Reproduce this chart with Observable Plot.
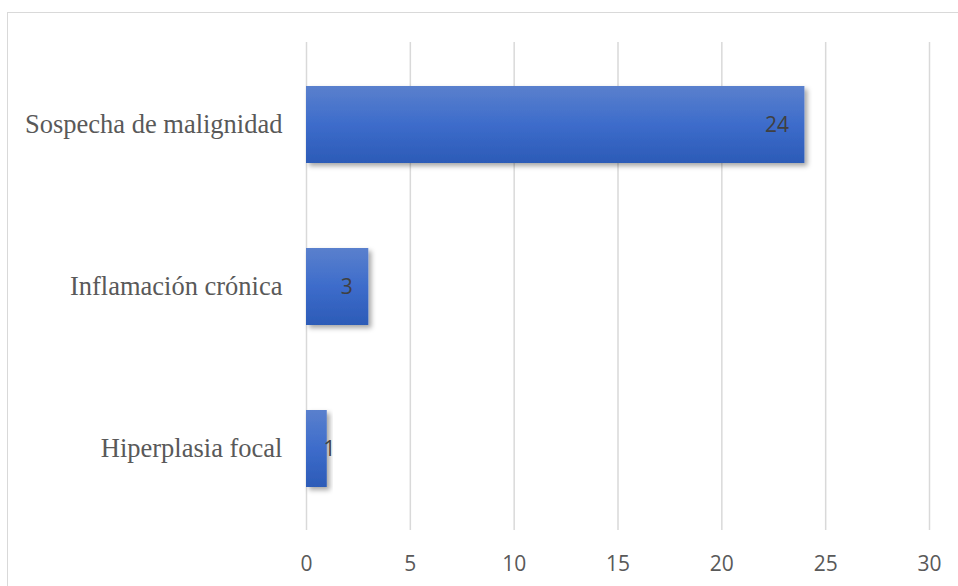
<!DOCTYPE html>
<html>
<head>
<meta charset="utf-8">
<script src="https://cdn.jsdelivr.net/npm/d3@7"></script>
<script src="https://cdn.jsdelivr.net/npm/@observablehq/plot@0.6"></script>
<style>
  html, body { margin: 0; padding: 0; background: #fff; }
  #wrap { position: relative; width: 958px; height: 586px; overflow: hidden; }
  #frame { position: absolute; left: 7px; top: 12px; width: 1000px; height: 700px;
           border: 1.5px solid #d9d9d9; box-sizing: border-box; }
  #chart { position: absolute; left: 0; top: 0; }
  #chart svg { overflow: visible; }
</style>
</head>
<body>
<div id="wrap"><div id="frame"></div><div id="chart"></div></div>
<script>
const categories = ["Sospecha de malignidad", "Inflamación crónica", "Hiperplasia focal"];
const values = [24, 3, 1];
const xTicks = [0, 5, 10, 15, 20, 25, 30];

const data = categories.map((c, i) => ({category: c, value: values[i]}));

const defs = () => {
  const ns = "http://www.w3.org/2000/svg";
  const g = document.createElementNS(ns, "g");
  g.innerHTML = `<defs>
    <linearGradient id="barGrad" x1="0" y1="0" x2="0" y2="1">
      <stop offset="0" stop-color="#5a80cd"/>
      <stop offset="0.5" stop-color="#3d6ccb"/>
      <stop offset="1" stop-color="#2c5bb7"/>
    </linearGradient>
    <filter id="shadow" x="-20%" y="-20%" width="150%" height="150%">
      <feDropShadow dx="3" dy="3" stdDeviation="2.5" flood-color="#000" flood-opacity="0.35"/>
    </filter>
  </defs>`;
  return g;
};

const sans = "'Open Sans', sans-serif";

const plot = Plot.plot({
  width: 958,
  height: 586,
  marginLeft: 306,
  marginRight: 29,
  marginTop: 42,
  marginBottom: 56,
  style: {background: "transparent", overflow: "visible"},
  x: {domain: [0, 30], ticks: xTicks},
  y: {domain: categories, paddingInner: 0.527, paddingOuter: 0.2635},
  marks: [
    defs,
    Plot.ruleX(xTicks, {stroke: "#d9d9d9", strokeWidth: 1.5}),
    Plot.barX(data, {x: "value", y: "category", fill: "url(#barGrad)"}),
    Plot.axisX({ticks: xTicks, tickSize: 0, tickPadding: 26, fontSize: 21, fontFamily: sans, fill: "#595959", label: null}),
    Plot.axisY({tickSize: 0, tickPadding: 24, fontSize: 26.5, fontFamily: "'Liberation Serif', 'Times New Roman', serif", fill: "#595959", label: null}),
    Plot.text(data.filter(d => d.value >= 3), {x: "value", y: "category", text: d => String(d.value), textAnchor: "end", dx: -16, fontSize: 21, fontFamily: sans, fill: "#404040"}),
    Plot.text(data.filter(d => d.value < 3), {x: 0, y: "category", text: d => String(d.value), textAnchor: "start", dx: 17, fontSize: 21, fontFamily: sans, fill: "#404040"})
  ]
});
plot.querySelectorAll("rect").forEach(r => r.setAttribute("filter", "url(#shadow)"));
document.getElementById("chart").appendChild(plot);
</script>
</body>
</html>
